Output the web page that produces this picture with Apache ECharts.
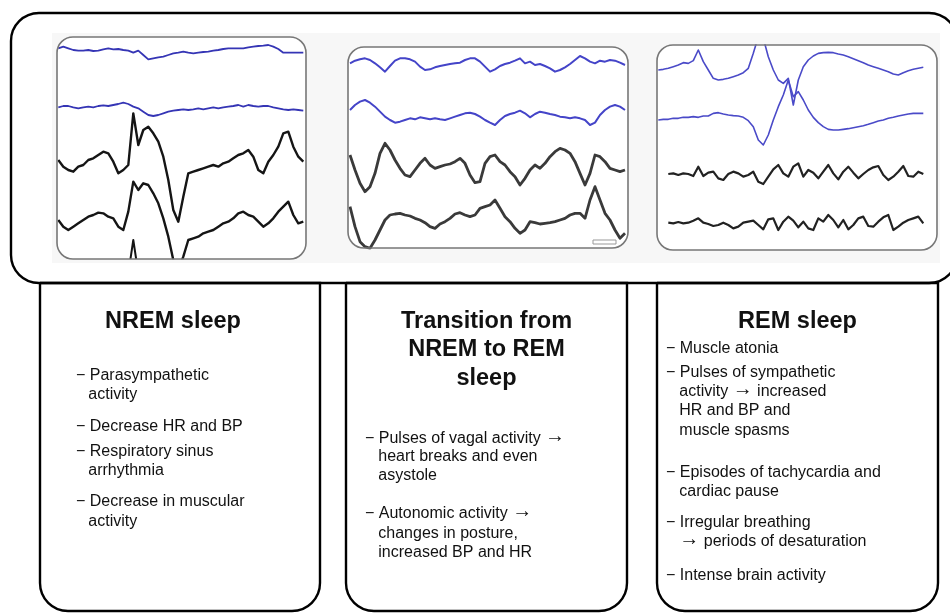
<!DOCTYPE html>
<html><head><meta charset="utf-8">
<script src="https://cdn.jsdelivr.net/npm/echarts@6/dist/echarts.min.js"></script>
<style>html,body{margin:0;padding:0;background:#fff}#c{width:950px;height:613px}</style>
</head><body><div id="c"></div><script>
// ---------- DATA: trace amplitudes (arbitrary units, + = up), uniform time samples ----------
// Panel 1: NREM sleep
const nremTrace1 = [5,10,5,0,-2,-2,0,-3,-2,2,5,2,3,0,-2,-8,-2,-15,-28,-25,-22,-20,-15,-10,-8,-5,-8,-10,-8,-6,-5,-2,0,3,5,5,5,5,8,10,12,13,15,10,3,-8,-8,-8,-8,-8];
const nremTrace2 = [-2,2,2,-2,-5,-2,0,-2,2,4,2,5,8,12,8,0,-5,-15,-25,-28,-25,-20,-15,-12,-10,-8,-10,-8,-5,-8,-5,-2,-5,-2,0,2,5,0,5,2,0,2,2,-2,-5,-8,-10,-8,-10,-12];
const nremTrace3 = [10,-10,-20,-25,-10,-5,10,15,25,35,30,5,-30,-20,-5,150,55,100,110,90,65,20,-50,-140,-175,-100,-30,-25,-20,-15,-10,-5,-10,0,5,15,25,30,40,20,-20,-30,5,25,50,90,95,50,20,5];
const nremTrace4 = [0,-20,-30,-20,-10,0,10,15,22,20,10,5,-20,-30,25,115,90,110,105,80,50,5,-50,-120,-150,-110,-60,-55,-50,-40,-35,-30,-20,-10,-5,5,20,25,15,10,-5,-20,-10,5,25,40,55,15,-10,-5];
const nremTrace5 = [0,0,0,0,0,0,0,0,0,0,0,0,0,0,0,100,0,0,0,0,0,0,0,0,0,0,0,0,0,0,0,0,0,0,0,0,0,0,0,0,0,0,0,0,0,0,0,0,0,0];
// Panel 2: Transition from NREM to REM
const transTrace1 = [0,8,12,15,10,0,-12,-25,-8,8,15,15,12,5,-10,-20,-18,-12,-8,-5,-2,0,2,10,15,15,5,-10,-25,-18,-8,-2,2,8,15,0,5,-5,-2,-8,-15,-25,-20,-12,-2,10,22,15,5,0,8,5,10,8,2,-5];
const transTrace2 = [20,35,45,50,42,30,15,0,-10,-18,-15,-10,-5,-8,-2,-5,-8,-5,-8,-10,-5,0,5,10,12,8,0,-10,-18,-25,-10,2,8,12,18,10,-2,8,15,12,8,5,0,-2,-5,-2,-5,-10,-25,-18,5,20,30,35,30,20];
const transTrace3 = [35,-10,-50,-75,-60,-20,40,70,50,20,-5,-25,-30,-10,10,25,5,-5,0,5,8,15,25,10,-25,-48,-45,10,30,35,15,5,-15,-30,-55,-35,-10,5,-5,10,30,45,55,50,40,15,-20,-55,-20,35,30,15,-5,-10,-15,-10];
const transTrace4 = [40,-20,-65,-80,-85,-60,-30,0,15,18,20,15,12,5,0,-8,-20,-25,-12,-5,5,18,22,15,10,15,35,40,45,60,35,10,-5,-25,-40,-30,-5,-8,-12,-10,-8,-5,0,5,15,20,20,5,60,100,60,20,0,-30,-55,-40];
// Panel 3: REM sleep
const remTrace1 = [0,2,5,10,15,22,20,28,60,25,0,-25,-30,-28,-25,-20,-15,-8,5,50,100,95,40,0,-30,-40,-25,-105,-30,10,30,42,50,52,53,52,48,45,40,34,28,22,15,10,5,0,-5,-12,-15,-8,-2,2,5,8];
const remTrace2 = [-5,-3,-3,0,0,3,3,5,3,7,7,15,17,13,10,8,7,3,-7,-25,-65,-80,-50,-5,35,70,115,65,80,55,25,3,-13,-25,-33,-35,-35,-33,-31,-28,-25,-22,-18,-13,-8,-5,0,3,7,10,13,15,15,15];
const remTrace3 = [null,null,0,2,-3,2,0,-6,22,-6,4,7,-13,-18,0,7,2,-8,-3,7,-23,-30,-8,14,27,2,-8,22,32,-8,12,4,-13,7,27,2,-16,7,22,4,-13,0,12,20,24,-3,-18,-8,7,24,-6,-8,7,0];
const remTrace4 = [null,null,0,-2,2,-2,0,6,13,0,-4,-10,-7,0,-7,-17,-12,0,3,6,-7,-20,10,13,-22,3,18,6,-14,3,-17,-22,13,3,23,8,-14,8,-20,-7,13,18,-10,-12,3,16,23,-22,-12,0,8,13,18,-2];

// ---------- TEXT ----------
const titles = ['NREM sleep', ['Transition from', 'NREM to REM', 'sleep'], 'REM sleep'];
const nremLines = ['\u2212 Parasympathetic', 'activity', '\u2212 Decrease HR and BP', '\u2212 Respiratory sinus', 'arrhythmia', '\u2212 Decrease in muscular', 'activity'];
const transLines = ['\u2212 Pulses of vagal activity {ar|\u2192}', 'heart breaks and even', 'asystole', '\u2212 Autonomic activity {ar|\u2192}', 'changes in posture,', 'increased BP and HR'];
const remLines = ['\u2212 Muscle atonia', '\u2212 Pulses of sympathetic', 'activity {ar|\u2192} increased', 'HR and BP and', 'muscle spasms', '\u2212 Episodes of tachycardia and', 'cardiac pause', '\u2212 Irregular breathing', '{ar|\u2192} periods of desaturation', '\u2212 Intense brain activity'];

// ---------- LAYOUT ----------
const panels = [
  {grid:{left:58.3, top:37, width:245, height:221}, yMax:663, n:50,
   traces:[[nremTrace1,624,'#3535b5',1.8],[nremTrace2,454,'#3535b5',1.8],[nremTrace3,284,'#151515',2.4],[nremTrace4,114,'#151515',2.4],[nremTrace5,-46,'#151515',2]]},
  {grid:{left:350, top:47, width:275, height:201}, yMax:603, n:56,
   traces:[[transTrace1,554,'#4444c8',2],[transTrace2,394,'#4444c8',2],[transTrace3,244,'#3a3a3a',2.8],[transTrace4,84,'#3a3a3a',2.8]]},
  {grid:{left:658.3, top:45, width:265, height:205}, yMax:615, n:54,
   traces:[[remTrace1,540,'#4a4ac8',1.6],[remTrace2,395,'#4a4ac8',1.6],[remTrace3,228,'#222',2.2],[remTrace4,82,'#222',2.2]]}
];
const panelFrames = [[57,37,249,222],[348,47,280,201],[657,45,280,205]];

const grids=[], xAxes=[], yAxes=[], series=[];
panels.forEach((p,gi)=>{
  grids.push(Object.assign({containLabel:false}, p.grid));
  xAxes.push({type:'value', gridIndex:gi, min:0, max:p.n-1, show:false});
  yAxes.push({type:'value', gridIndex:gi, min:0, max:p.yMax, show:false});
  p.traces.forEach(t=>{
    const [amp, base, color, w] = t;
    series.push({type:'line', xAxisIndex:gi, yAxisIndex:gi, symbol:'none', showSymbol:false,
      clip:true, silent:true, z:3, animation:false,
      lineStyle:{color:color, width:w, join:'round'},
      data: amp.map((v,i)=>[i, v==null ? '-' : base+v])});
  });
});

const FONT = '"Liberation Sans", Arial, sans-serif';
const graphic = [];
graphic.push({type:'rect', z:0, shape:{x:52,y:33,width:888,height:230}, style:{fill:'#f7f7f7'}});
panelFrames.forEach(f=>{
  graphic.push({type:'rect', z:1, shape:{x:f[0],y:f[1],width:f[2],height:f[3],r:16}, style:{fill:'#fff'}});
  graphic.push({type:'rect', z:20, shape:{x:f[0],y:f[1],width:f[2],height:f[3],r:16}, style:{fill:null, stroke:'#777', lineWidth:1.6}});
});
graphic.push({type:'rect', z:21, shape:{x:593,y:240,width:23,height:4}, style:{fill:'#fff', stroke:'#999', lineWidth:1}});
graphic.push({type:'rect', z:25, shape:{x:11,y:13,width:946,height:270,r:28}, style:{fill:null, stroke:'#000', lineWidth:2.4}});
[[40,280],[346,281],[657,281]].forEach(b=>{
  graphic.push({type:'rect', z:25, shape:{x:b[0],y:283,width:b[1],height:328,r:[0,0,28,28]}, style:{fill:null, stroke:'#000', lineWidth:2.4}});
});
const RICH = {ar:{font:'20px "Liberation Sans"', fill:'#111', verticalAlign:'middle', padding:[0,0,4,0]}};
function txt(s,x,y,opt){
  graphic.push({type:'text', z:30, x:x, y:y, style:Object.assign({text:s, fill:'#111', font:'16px '+FONT, textAlign:'left', textVerticalAlign:'middle', rich:RICH}, opt||{})});
}
txt(titles[0], 173, 322, {font:'bold 23.5px '+FONT, textAlign:'center'});
titles[1].forEach((s,i)=>txt(s, 486.5, 321.7+i*28.2, {font:'bold 23.5px '+FONT, textAlign:'center'}));
txt(titles[2], 797.5, 322, {font:'bold 23.5px '+FONT, textAlign:'center'});
const isBullet = s => s.charAt(0)==='\u2212';
const nremY = [375.7,395,426.7,451.7,470.5,501.7,521.7];
nremLines.forEach((s,i)=>txt(s, isBullet(s)?76:88.3, nremY[i]));
const transY = [438.3,456.7,475.7,513.3,533.3,552.3];
transLines.forEach((s,i)=>txt(s, isBullet(s)?365:378.3, transY[i]));
const remY = [348.3,372.7,391.7,411,430.7,472.7,491.7,522.7,541.7,576];
remLines.forEach((s,i)=>txt(s, isBullet(s)?666:679.3, remY[i]));

const chart = echarts.init(document.getElementById('c'), null, {renderer:'canvas'});
chart.setOption({animation:false, backgroundColor:'#fff', grid:grids, xAxis:xAxes, yAxis:yAxes, series:series, graphic:graphic});
</script></body></html>
